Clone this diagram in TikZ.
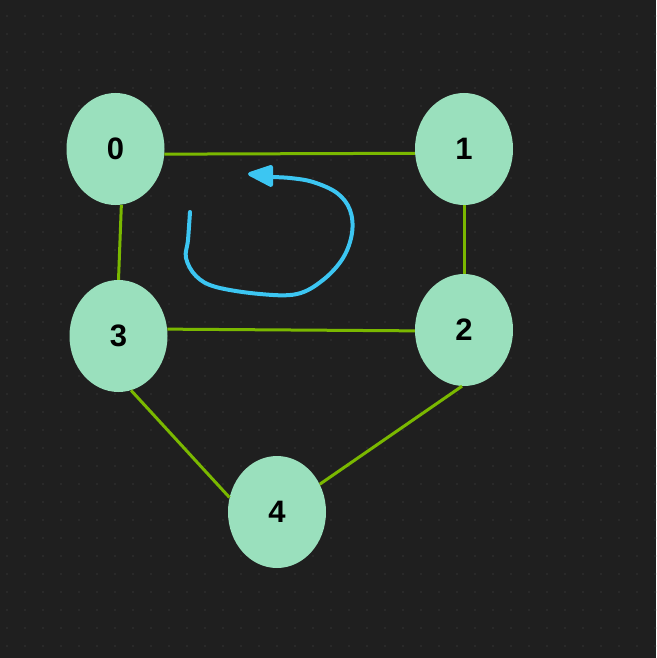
\documentclass[tikz,border=0pt]{standalone}
\usepackage{fontspec}
\setmainfont{Liberation Sans}
\usepackage{tikz}
\usetikzlibrary{positioning,shapes.geometric,arrows.meta}
\definecolor{bgGray}{HTML}{1F1F1F}
\definecolor{dotGray}{HTML}{2B2B2B}
\definecolor{nodeGreen}{HTML}{9AE0BD}
\definecolor{edgeGreen}{HTML}{7AB800}
\definecolor{loopBlue}{HTML}{3CC6F2}
\tikzset {
    style N/.style={
        fill=nodeGreen,
        draw=none,
        ellipse, % Set the shape as an ellipse
        minimum width=98pt,
        minimum height=112pt,
        inner sep=0pt,
        font=\fontsize{31}{31}\selectfont\bfseries,
        text=black,
        align=center,
    },
    style E/.style={
        draw=edgeGreen,
        line width=3pt,
    },
    style L/.style={
        draw=loopBlue,
        line width=4pt,
        line cap=round,
        line join=round,
    },
}
\begin{document}
\begin{tikzpicture}[x=1pt, y=-1pt]
\fill[bgGray] (0,0) rectangle (656,658);
\useasboundingbox (0,0) rectangle (656,658);
\foreach \i in {0,...,36}
  \foreach \j in {0,...,35}
    \fill[dotGray] (7+18*\i, 16+18*\j) circle (1.4pt);

\node[style N] at (115.5, 149) (n0) {0};
\node[style N] at (464, 149) (n1) {1};
\node[style N] at (464, 330) (n2) {2};
\node[style N] at (118.5, 336) (n3) {3};
\node[style N] at (277, 512) (n4) {4};

\draw[style E] (n0.-6) -- (n1.185);
\draw[style E] (n0.-84) -- (n3.90);
\draw[style E] (n1.-90) -- (n2.90);
\draw[style E] (n3.8) -- (n2.181);
\draw[style E] (n3.-77) -- (n4.163);
\draw[style E] (n2.-92) -- (n4.33);

% the loop
\draw[style L]
  plot[smooth, tension=0.6] coordinates {(190,212) (188,240) (186,258) (196,276)
  (216,287) (260,294) (297,294) (323,280) (343,258) (352,233) (350,210)
  (337,193) (313,182) (290,178) (270,177)};
\filldraw[style L, fill=loopBlue] (250,174) -- (271,167) -- (271,185) -- cycle;
\end{tikzpicture}
\end{document}
